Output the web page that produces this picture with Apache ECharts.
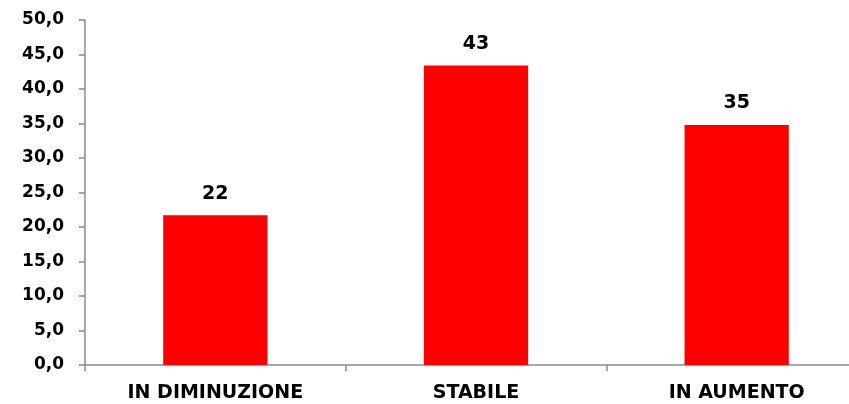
<!DOCTYPE html>
<html>
<head>
<meta charset="utf-8">
<script src="https://cdn.jsdelivr.net/npm/echarts@6/dist/echarts.min.js"></script>
<style>
  html, body { margin: 0; padding: 0; background: #fff; }
  #chart { width: 849px; height: 404px; }
</style>
</head>
<body>
<div id="chart"></div>
<script>
const categories = ["IN DIMINUZIONE", "STABILE", "IN AUMENTO"];
const values = [21.7, 43.4, 34.8];
const yTicks = { min: 0, max: 50, interval: 5 };

let myChart = echarts.init(document.getElementById("chart"));
let font = "'DejaVu Sans', sans-serif";

let option = {
  backgroundColor: "#ffffff",
  animation: false,
  // plot runs a bit past the right edge, as in the original
  grid: { left: 85, width: 782, top: 20, bottom: 39, containLabel: false, outerBoundsMode: "none" },
  xAxis: {
    type: "category",
    data: categories,
    axisLine: { lineStyle: { color: "#8c8c8c", width: 1.5 } },
    axisTick: { show: true, length: 6, lineStyle: { color: "#8c8c8c", width: 1.5 } },
    axisLabel: {
      color: "#000",
      fontFamily: font,
      fontWeight: "bold",
      fontSize: 19,
      margin: 19
    }
  },
  yAxis: {
    type: "value",
    min: yTicks.min,
    max: yTicks.max,
    interval: yTicks.interval,
    splitLine: { show: false },
    axisLine: { show: true, lineStyle: { color: "#8c8c8c", width: 1.5 } },
    axisTick: { show: true, length: 6, lineStyle: { color: "#8c8c8c", width: 1.5 } },
    axisLabel: {
      color: "#000",
      fontFamily: font,
      fontWeight: "bold",
      fontSize: 17,
      margin: 21,
      padding: [3, 0, 0, 0],
      formatter: v => v.toFixed(1).replace(".", ",")
    }
  },
  series: [
    {
      type: "bar",
      data: values,
      barCategoryGap: "60%",
      itemStyle: { color: "#ff0000" },
      label: {
        show: true,
        position: "top",
        distance: 12,
        color: "#000",
        fontFamily: font,
        fontWeight: "bold",
        fontSize: 19,
        formatter: p => Math.round(p.value)
      }
    }
  ]
};
myChart.setOption(option);
</script>
</body>
</html>
